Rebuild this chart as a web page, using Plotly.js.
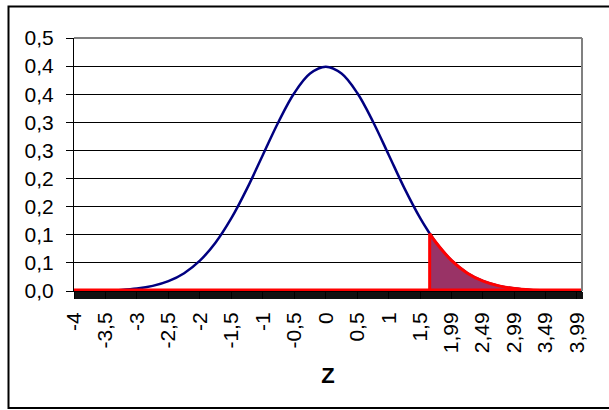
<!DOCTYPE html>
<html>
<head>
<meta charset="utf-8">
<script src="https://cdn.plot.ly/plotly-3.0.1.min.js"></script>
<style>
  html, body { margin: 0; padding: 0; background: #fff; }
  #chart { width: 609px; height: 410px; }
</style>
</head>
<body>
<div id="chart"></div>
<script>
// Standard normal density, with the right tail beyond z = 1,65 shaded.
const zVals = [-4, -3.75, -3.5, -3.25, -3, -2.75, -2.5, -2.25, -2, -1.75, -1.5, -1.25,
  -1, -0.75, -0.5, -0.25, 0, 0.25, 0.5, 0.75, 1, 1.25, 1.5, 1.65, 1.65, 1.75, 2,
  2.25, 2.5, 2.75, 3, 3.25, 3.5, 3.75, 4.07];
const density = [0.0001, 0.0004, 0.0009, 0.0020, 0.0044, 0.0091, 0.0175, 0.0317, 0.0540,
  0.0863, 0.1295, 0.1826, 0.2420, 0.3011, 0.3521, 0.3867, 0.3989, 0.3867, 0.3521,
  0.3011, 0.2420, 0.1826, 0.1295, 0.1023, 0.1023, 0.0863, 0.0540, 0.0317, 0.0175,
  0.0091, 0.0044, 0.0020, 0.0009, 0.0004, 0.0001];
// Tail series: zero up to the cut, then the density.
const tailVals = [0, 0, 0, 0, 0, 0, 0, 0, 0, 0, 0, 0, 0, 0, 0, 0, 0, 0, 0, 0, 0, 0, 0,
  0, 0.1023, 0.0863, 0.0540, 0.0317, 0.0175, 0.0091, 0.0044, 0.0020, 0.0009, 0.0004, 0.0001];

const xTickVals = [-4, -3.5, -3, -2.5, -2, -1.5, -1, -0.5, 0, 0.5, 1, 1.5, 1.99, 2.49, 2.99, 3.49, 3.99];
const xTickText = ['-4', '-3,5', '-3', '-2,5', '-2', '-1,5', '-1', '-0,5', '0', '0,5', '1', '1,5',
  '1,99', '2,49', '2,99', '3,49', '3,99'];
const yTickVals = [0, 0.05, 0.1, 0.15, 0.2, 0.25, 0.3, 0.35, 0.4, 0.45];
const yTickText = ['0,0', '0,1', '0,1', '0,2', '0,2', '0,3', '0,3', '0,4', '0,4', '0,5'];

// split the tail series into its flat/vertical part and its curved part
const cutIdx = tailVals.findIndex(v => v > 0);
const flatX = zVals.slice(0, cutIdx + 1);
const flatY = tailVals.slice(0, cutIdx + 1);
const curveX = zVals.slice(cutIdx);
const curveY = tailVals.slice(cutIdx);
const last = zVals.length - 1;

const FONT = 'Arial, "Liberation Sans", sans-serif';
const TICK_SIZE = 21;

const traces = [
  { x: zVals, y: density, type: 'scatter', mode: 'lines',
    line: { color: '#000080', width: 2.5, shape: 'spline' }, hoverinfo: 'skip' },
  { x: curveX, y: curveY, type: 'scatter', mode: 'lines', fill: 'tozeroy',
    fillcolor: '#993366', line: { color: '#ff0000', width: 3, shape: 'spline' }, hoverinfo: 'skip' },
  { x: flatX, y: flatY, type: 'scatter', mode: 'lines',
    line: { color: '#ff0000', width: 3 }, hoverinfo: 'skip' },
  { x: [zVals[0], zVals[last]], y: [tailVals[0], tailVals[0]], type: 'scatter', mode: 'lines',
    line: { color: '#ff0000', width: 5 }, hoverinfo: 'skip' }
];

const layout = {
  width: 609, height: 410,
  margin: { l: 74, r: 27, t: 38, b: 119 },
  paper_bgcolor: '#ffffff', plot_bgcolor: '#ffffff',
  showlegend: false,
  font: { family: FONT, color: '#000', size: TICK_SIZE },
  xaxis: {
    range: [zVals[0], zVals[last]],
    tickmode: 'array', tickvals: xTickVals, ticktext: xTickText,
    tickangle: -90, tickfont: { family: FONT, size: TICK_SIZE, color: '#000' },
    ticklabelstandoff: 5,
    ticks: 'outside', ticklen: 7, tickcolor: '#000', tickwidth: 1,
    minor: { tickmode: 'linear', tick0: -4, dtick: 0.01, ticks: 'outside', ticklen: 7,
             tickcolor: '#111', tickwidth: 1, showgrid: false },
    showgrid: false, zeroline: false,
    showline: true, linecolor: '#000', linewidth: 1,
    title: { text: 'Z', font: { family: FONT, size: 22, color: '#000', weight: 'bold' }, standoff: 15 },
    fixedrange: true
  },
  yaxis: {
    range: [0, 0.45],
    tickmode: 'array', tickvals: yTickVals, ticktext: yTickText,
    tickfont: { family: FONT, size: TICK_SIZE, color: '#000' },
    ticklabelstandoff: 8,
    ticks: 'outside', ticklen: 7, tickcolor: '#000', tickwidth: 1,
    showgrid: true, gridcolor: '#000', gridwidth: 1,
    zeroline: false, showline: true, linecolor: '#000', linewidth: 1,
    fixedrange: true
  },
  shapes: [
    // plot frame, top and right sides
    { type: 'line', xref: 'paper', yref: 'paper', x0: 0, x1: 1, y0: 1, y1: 1,
      line: { color: '#808080', width: 2 }, layer: 'above' },
    { type: 'line', xref: 'paper', yref: 'paper', x0: 1, x1: 1, y0: 0, y1: 1,
      line: { color: '#808080', width: 2 }, layer: 'above' },
    // outer chart border
    { type: 'rect', xref: 'paper', yref: 'paper',
      x0: (8.5 - 74) / 508, x1: 1.2, y0: (253 - 408 + 38) / 253, y1: (253 + 38 - 6.5) / 253,
      line: { color: '#000', width: 2 }, fillcolor: 'rgba(0,0,0,0)', layer: 'below' }
  ]
};

Plotly.newPlot('chart', traces, layout, { displayModeBar: false, staticPlot: true });
</script>
</body>
</html>
